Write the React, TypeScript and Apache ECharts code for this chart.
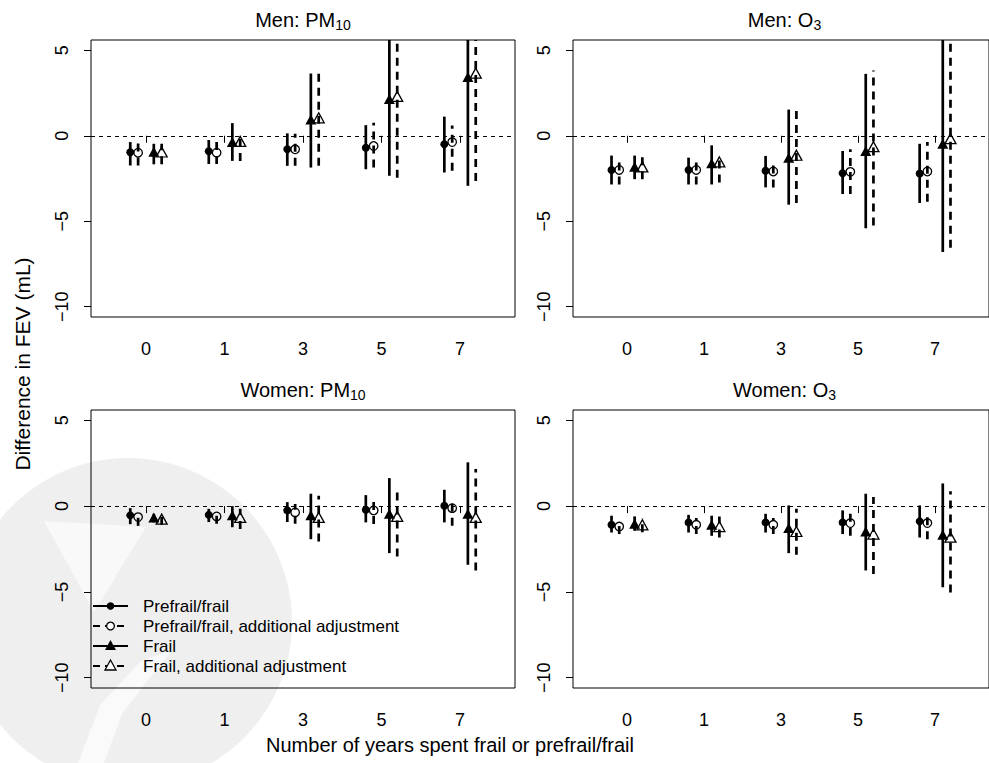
import React, { useEffect, useRef } from 'react';
import * as echarts from 'echarts';

const FONT = '"Liberation Sans", Arial, Helvetica, sans-serif';

// x categories (years spent frail or prefrail/frail)
const yearLabels = ['0', '1', '3', '5', '7'];
const yTickValues = [-10, -5, 0, 5];
const seriesNames = [
  'Prefrail/frail',
  'Prefrail/frail, additional adjustment',
  'Frail',
  'Frail, additional adjustment',
];

// each entry: [estimate, lower CI, upper CI]
const menPM10Prefrail = [[-0.97, -1.74, -0.37], [-0.91, -1.65, -0.25], [-0.79, -1.76, 0.14], [-0.70, -1.96, 0.62], [-0.50, -2.15, 1.12]];
const menPM10PrefrailAdj = [[-0.99, -1.74, -0.37], [-0.99, -1.65, -0.25], [-0.79, -1.76, 0.12], [-0.60, -1.86, 0.76], [-0.37, -2.05, 0.60]];
const menPM10Frail = [[-0.93, -1.67, -0.47], [-0.37, -1.47, 0.74], [0.95, -1.86, 3.64], [2.15, -2.34, 6.64], [3.43, -2.93, 9.79]];
const menPM10FrailAdj = [[-0.95, -1.67, -0.47], [-0.33, -1.47, 0.12], [1.05, -1.76, 3.72], [2.30, -2.45, 7.05], [3.66, -2.64, 9.96]];

const menO3Prefrail = [[-2.00, -2.85, -1.16], [-2.00, -2.85, -1.28], [-2.05, -3.02, -1.18], [-2.19, -3.41, -0.89], [-2.21, -3.93, -0.47]];
const menO3PrefrailAdj = [[-2.00, -2.85, -1.28], [-2.00, -2.85, -1.28], [-2.09, -3.02, -1.47], [-2.11, -3.41, -0.79], [-2.09, -3.86, -0.37]];
const menO3Frail = [[-1.82, -2.54, -1.16], [-1.61, -2.85, -0.56], [-1.28, -4.03, 1.53], [-0.89, -5.41, 3.62], [-0.47, -6.80, 5.86]];
const menO3FrailAdj = [[-1.82, -2.54, -1.16], [-1.53, -2.73, -1.18], [-1.14, -3.93, 1.63], [-0.64, -5.25, 3.82], [-0.17, -6.55, 6.21]];

const womenPM10Prefrail = [[-0.54, -1.05, -0.12], [-0.51, -0.93, -0.16], [-0.25, -0.93, 0.23], [-0.21, -0.95, 0.64], [0.02, -0.95, 0.95]];
const womenPM10PrefrailAdj = [[-0.64, -1.15, -0.35], [-0.60, -1.03, -0.31], [-0.37, -1.03, 0.12], [-0.25, -1.05, 0.53], [-0.12, -1.15, 0.41]];
const womenPM10Frail = [[-0.66, -0.95, -0.45], [-0.53, -1.23, 0.00], [-0.53, -1.93, 0.72], [-0.45, -2.74, 1.63], [-0.45, -3.42, 2.55]];
const womenPM10FrailAdj = [[-0.76, -1.09, -0.60], [-0.66, -1.34, -0.16], [-0.66, -2.06, 0.60], [-0.60, -2.94, 0.95], [-0.66, -3.75, 2.16]];

const womenO3Prefrail = [[-1.09, -1.54, -0.56], [-0.95, -1.54, -0.51], [-0.95, -1.54, -0.45], [-0.95, -1.63, -0.25], [-0.89, -1.83, 0.04]];
const womenO3PrefrailAdj = [[-1.19, -1.63, -0.90], [-1.09, -1.63, -0.70], [-1.09, -1.63, -0.70], [-0.99, -1.73, -0.25], [-0.99, -1.93, -0.37]];
const womenO3Frail = [[-1.03, -1.44, -0.60], [-1.09, -1.73, -0.56], [-1.28, -2.74, 0.04], [-1.48, -3.75, 0.72], [-1.67, -4.73, 1.32]];
const womenO3FrailAdj = [[-1.09, -1.52, -0.70], [-1.19, -1.83, -0.60], [-1.48, -2.84, -0.16], [-1.63, -3.95, 0.53], [-1.81, -5.04, 0.86]];

const X_MIN = 0.3;
const X_MAX = 5.7;
const Y_MIN = -10.6;
const Y_MAX = 5.6;
const offsets = [-0.2, -0.1, 0.1, 0.2];

const styles = [
  { symbol: 'circle', size: 8, filled: true, dashed: false },
  { symbol: 'circle', size: 8.5, filled: false, dashed: true },
  { symbol: 'triangle', size: [11, 10], filled: true, dashed: false },
  { symbol: 'triangle', size: [11, 10], filled: false, dashed: true },
];

const panels = [
  { title: 'Men: PM', sub: '10', data: [menPM10Prefrail, menPM10PrefrailAdj, menPM10Frail, menPM10FrailAdj], grid: { left: 91, top: 40, width: 424, height: 277 } },
  { title: 'Men: O', sub: '3', data: [menO3Prefrail, menO3PrefrailAdj, menO3Frail, menO3FrailAdj], grid: { left: 573, top: 40, width: 423, height: 277 } },
  { title: 'Women: PM', sub: '10', data: [womenPM10Prefrail, womenPM10PrefrailAdj, womenPM10Frail, womenPM10FrailAdj], grid: { left: 91, top: 410, width: 424, height: 278 } },
  { title: 'Women: O', sub: '3', data: [womenO3Prefrail, womenO3PrefrailAdj, womenO3Frail, womenO3FrailAdj], grid: { left: 573, top: 410, width: 423, height: 278 } },
];

function buildOption() {
  const grid: any[] = [];
  const xAxis: any[] = [];
  const yAxis: any[] = [];
  const series: any[] = [];
  const graphic: any[] = [];

  // watermark (faint logo behind everything)
  graphic.push({ type: 'circle', z: -10, silent: true, shape: { cx: 128, cy: 622, r: 164 }, style: { fill: '#efefef' } });
  graphic.push({ type: 'polygon', z: -9, silent: true, shape: { points: [[44, 521], [146, 527], [94, 612]] }, style: { fill: '#f9f9f9' } });
  graphic.push({ type: 'polygon', z: -9, silent: true, shape: { points: [[78, 763], [100, 705], [140, 662], [172, 650], [152, 675], [122, 714], [104, 763]] }, style: { fill: '#fafafa' } });

  panels.forEach((p, pi) => {
    grid.push({ ...p.grid, show: true, borderColor: '#000', borderWidth: 1, backgroundColor: 'transparent', containLabel: false });
    xAxis.push({
      type: 'value', gridIndex: pi, min: X_MIN, max: X_MAX,
      axisLine: { show: false },
      splitLine: { show: false },
      axisTick: { show: true, length: 7, customValues: [1, 2, 3, 4, 5], lineStyle: { color: '#000', width: 1 } },
      axisLabel: {
        show: true, customValues: [1, 2, 3, 4, 5], margin: 23, color: '#000', fontSize: 18, fontFamily: FONT,
        formatter: (v: number) => yearLabels[Math.round(v) - 1] ?? '',
      },
    });
    yAxis.push({
      type: 'value', gridIndex: pi, min: Y_MIN, max: Y_MAX,
      axisLine: { show: false },
      splitLine: { show: false },
      axisTick: { show: true, length: 7, customValues: yTickValues, lineStyle: { color: '#000', width: 1 } },
      axisLabel: {
        show: true, customValues: yTickValues, rotate: 90, margin: 20, color: '#000', fontSize: 18, fontFamily: FONT,
        formatter: (v: number) => (v < 0 ? '\u2212' + Math.abs(v) : String(v)),
      },
    });

    p.data.forEach((vals, si) => {
      const st = styles[si];
      series.push({
        type: 'custom', name: seriesNames[si], xAxisIndex: pi, yAxisIndex: pi, z: 2, clip: true,
        encode: { x: 0, y: [1, 2] },
        data: vals.map((v, i) => [i + 1 + offsets[si], v[1], v[2]]),
        renderItem: (params: any, api: any) => {
          const x = api.value(0);
          const lo = Math.max(api.value(1), Y_MIN);
          const hi = Math.min(api.value(2), Y_MAX);
          const a = api.coord([x, lo]);
          const b = api.coord([x, hi]);
          return {
            type: 'line',
            shape: { x1: a[0], y1: a[1], x2: b[0], y2: b[1] },
            style: { stroke: '#000', lineWidth: 2.7, lineDash: st.dashed ? [8, 6] : null, fill: null },
          };
        },
      });
    });
    p.data.forEach((vals, si) => {
      const st = styles[si];
      const s: any = {
        type: 'scatter', name: seriesNames[si], xAxisIndex: pi, yAxisIndex: pi, z: 3,
        symbol: st.symbol, symbolSize: st.size,
        itemStyle: st.filled
          ? { color: '#000', borderWidth: 0, opacity: 1 }
          : { color: 'rgba(0,0,0,0)', borderColor: '#000', borderWidth: 1.3, opacity: 1 },
        data: vals.map((v, i) => [i + 1 + offsets[si], v[0]]),
      };
      if (si === 0) {
        s.markLine = {
          silent: true, symbol: 'none', label: { show: false },
          lineStyle: { type: [4, 4], color: '#000', width: 1 },
          data: [{ yAxis: 0 }],
        };
      }
      series.push(s);
    });

    const cx = p.grid.left + p.grid.width / 2;
    graphic.push({
      type: 'text', x: cx, y: p.grid.top - 20,
      style: {
        text: `{a|${p.title}}{s|${p.sub}}`, align: 'center', verticalAlign: 'middle',
        rich: {
          a: { fontSize: 20, fontFamily: FONT, fill: '#000', lineHeight: 24 },
          s: { fontSize: 14, fontFamily: FONT, fill: '#000', lineHeight: 10, verticalAlign: 'bottom' },
        },
      },
    });
  });

  // axis titles
  graphic.push({ type: 'text', x: 450, y: 745, style: { text: 'Number of years spent frail or prefrail/frail', fontSize: 20, fontFamily: FONT, fill: '#000', align: 'center', verticalAlign: 'middle' } });
  graphic.push({ type: 'text', x: 22, y: 364, rotation: Math.PI / 2, style: { text: 'Difference in FEV (mL)', fontSize: 21, fontFamily: FONT, fill: '#000', align: 'center', verticalAlign: 'middle' } });

  // legend (bottom-left panel)
  styles.forEach((st, i) => {
    const y = 606 + i * 20;
    const sx = 110.5;
    graphic.push({ type: 'line', shape: { x1: 93, y1: y, x2: 128, y2: y }, style: { stroke: '#000', lineWidth: 2, lineDash: st.dashed ? [7, 5] : null } });
    if (st.symbol === 'circle') {
      graphic.push({ type: 'circle', shape: { cx: sx, cy: y, r: st.filled ? 3.8 : 3.9 }, style: { fill: st.filled ? '#000' : '#fff', stroke: '#000', lineWidth: st.filled ? 0 : 1.3 } });
    } else {
      graphic.push({ type: 'polygon', shape: { points: [[sx, y - 6], [sx - 5.5, y + 4], [sx + 5.5, y + 4]] }, style: { fill: st.filled ? '#000' : '#fff', stroke: '#000', lineWidth: st.filled ? 0 : 1.3 } });
    }
    graphic.push({ type: 'text', x: 143, y, style: { text: seriesNames[i], fontSize: 17, fontFamily: FONT, fill: '#000', verticalAlign: 'middle' } });
  });

  return {
    animation: false,
    backgroundColor: '#ffffff',
    textStyle: { fontFamily: FONT },
    grid, xAxis, yAxis, series, graphic,
  };
}

export default function App() {
  const ref = useRef<HTMLDivElement>(null);
  useEffect(() => {
    document.body.style.margin = '0';
    if (!ref.current) return;
    const chart = echarts.init(ref.current, undefined, { renderer: 'svg' });
    chart.setOption(buildOption() as any);
    return () => chart.dispose();
  }, []);
  return <div ref={ref} style={{ width: 989, height: 763 }} />;
}
